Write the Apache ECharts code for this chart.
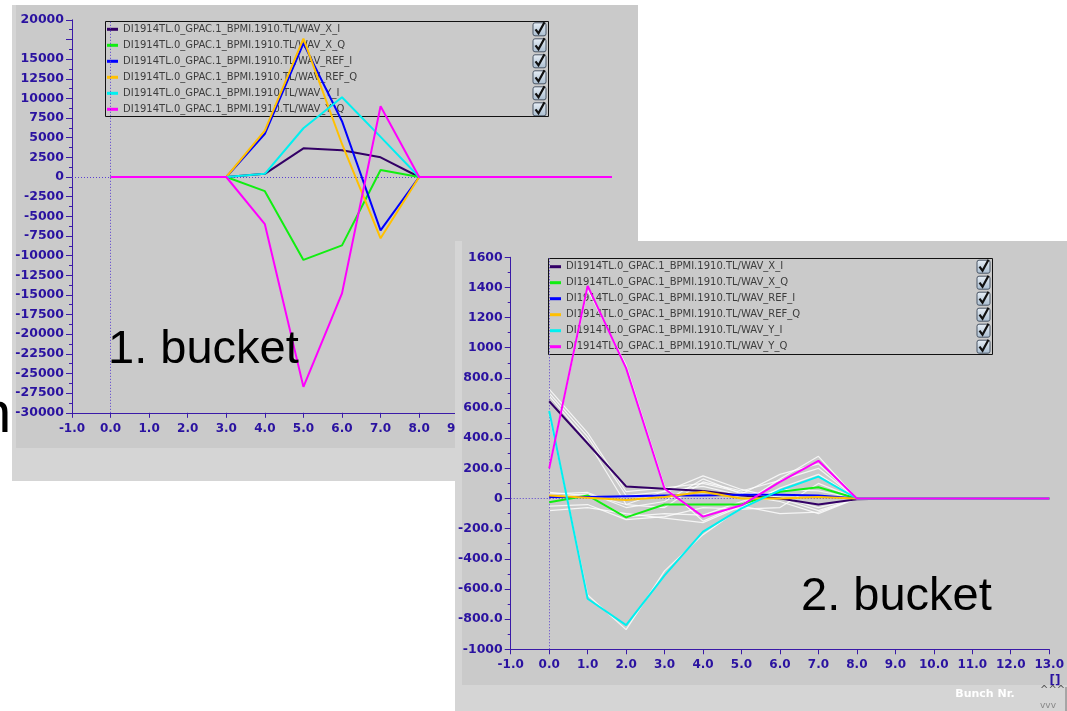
<!DOCTYPE html>
<html>
<head>
<meta charset="utf-8">
<title>BPMI 1910 waveforms</title>
<script src="https://cdn.jsdelivr.net/npm/echarts@6/dist/echarts.min.js"></script>
<style>
  html, body { margin: 0; padding: 0; background: #ffffff; }
  body { position: relative; width: 1067px; height: 711px; overflow: hidden; }
  #bucket1 { position: absolute; left: 12px; top: 5px; width: 626px; height: 476px; }
  #bucket2 { position: absolute; left: 455px; top: 241px; width: 612px; height: 470px; }
  #slideEdge { position: absolute; left: -21px; top: 372px; font: 58px 'Liberation Sans', Arial, sans-serif; color: #000; line-height: 80px; }
</style>
</head>
<body>
<div id="slideEdge">n</div>
<div id="bucket1"></div>
<div id="bucket2"></div>
<script>
// ---- data ---------------------------------------------------------------
const bunchNr = [0, 1, 2, 3, 4, 5, 6, 7, 8, 9, 10, 11, 12, 13];

const signalNames = [
  'DI1914TL.0_GPAC.1_BPMI.1910.TL/WAV_X_I',
  'DI1914TL.0_GPAC.1_BPMI.1910.TL/WAV_X_Q',
  'DI1914TL.0_GPAC.1_BPMI.1910.TL/WAV_REF_I',
  'DI1914TL.0_GPAC.1_BPMI.1910.TL/WAV_REF_Q',
  'DI1914TL.0_GPAC.1_BPMI.1910.TL/WAV_Y_I',
  'DI1914TL.0_GPAC.1_BPMI.1910.TL/WAV_Y_Q'
];

// 1st bucket
const b1XI   = [0, 0, 0, 0,   400,   3650,   3400,  2500, 0, 0, 0, 0, 0, 0];
const b1XQ   = [0, 0, 0, 0, -1800, -10550,  -8700,   900, 0, 0, 0, 0, 0, 0];
const b1RefI = [0, 0, 0, 0,  5500,  17000,   7100, -6800, 0, 0, 0, 0, 0, 0];
const b1RefQ = [0, 0, 0, 0,  5900,  17600,   4200, -7800, 0, 0, 0, 0, 0, 0];
const b1YI   = [0, 0, 0, 0,   400,   6200,  10150,  5100, 0, 0, 0, 0, 0, 0];
const b1YQ   = [0, 0, 0, 0, -6000, -26700, -14800,  9000, 0, 0, 0, 0, 0, 0];

// 2nd bucket
const b2XI   = [645,  365,   80,   65,   50,  20,   0, -40, -5, 0, 0, 0, 0, 0];
const b2XQ   = [-25,   20, -125,  -40,  -40, -40,  45,  75,  0, 0, 0, 0, 0, 0];
const b2RefI = [ 10,   10,   15,   20,   20,  25,  25,  20,  0, 0, 0, 0, 0, 0];
const b2RefQ = [ 20,    5,  -10,   10,   45,   0,   0,  10,  0, 0, 0, 0, 0, 0];
const b2YI   = [580, -665, -840, -510, -220, -65,  55, 145,  0, 0, 0, 0, 0, 0];
const b2YQ   = [200, 1410,  865,   65, -120, -45, 110, 250,  0, 0, 0, 0, 0, 0];

// earlier acquisitions of the 2nd bucket (persistence traces, bunches 0..8)
const b2Prev1  = [725,  435,   45,   70,  100,  40,  10,  -60, 0];
const b2Prev2  = [700,  410,   20,   45,  150,  60,   0,  -80, 0];
const b2Prev3  = [680,  380,  -40,   50,   80,  20, -20, -100, 0];
const b2Prev4  = [210, 1385,  885,   80, -150, -40, 130,  280, 0];
const b2Prev5  = [560, -640, -870, -480, -240, -60,  70,  160, 0];
const b2Prev6  = [ 30,   40,  -60,  -20,  130,  30, 160,  230, 0];
const b2Prev7  = [-50,  -40, -140, -120,  -60, -70, -60,  100, 0];
const b2Prev8  = [-80,  -60, -100, -130, -160, -50,-100,  -90, 0];
const b2Prev9  = [ 40,   20, -120, -100, -110, -20,  60,   50, 0];
const b2Prev10 = [ 10,   30,  -40,  -60,  110,  50, 120,  200, 0];

// ---- styling -------------------------------------------------------------
const signalColors = ['#330066', '#11ee11', '#0000ff', '#ffc000', '#00f0f0', '#ff00ff'];
const axisColor = '#3a1aa8';
const labelColor = '#2a12a0';
const yLabelFont = { fontFamily: 'DejaVu Sans', fontWeight: 'bold', fontSize: 12.5, color: labelColor };
const xLabelFont = { fontFamily: 'DejaVu Sans', fontWeight: 'bold', fontSize: 12, color: labelColor };

function pairs(values) {
  return values.map((v, i) => [bunchNr[i], v]);
}

function checkbox(x, y) {
  return {
    type: 'group', x: x, y: y, z: 6,
    children: [
      { type: 'rect', shape: { x: 0, y: 0, width: 13, height: 13, r: 2 },
        style: { fill: new echarts.graphic.LinearGradient(0, 0, 0, 1, [
          { offset: 0, color: '#e9f0f7' }, { offset: 1, color: '#a8bccf' }]),
          stroke: '#4a5666', lineWidth: 1 } },
      { type: 'polyline', shape: { points: [[2.5, 6.5], [5.5, 10.5], [11.5, -0.5]] },
        style: { stroke: '#111111', lineWidth: 2.2, fill: null } }
    ]
  };
}

function buildOption(cfg) {
  const traces = (cfg.history || []).map(h => ({
    type: 'line', data: pairs(h), symbol: 'none', silent: true, z: 4,
    lineStyle: { color: 'rgba(255,255,255,0.8)', width: 1.2 }
  }));
  const signals = cfg.signals.map((vals, k) => ({
    name: signalNames[k], type: 'line', data: pairs(vals), symbol: 'none', z: 5,
    itemStyle: { color: signalColors[k] },
    lineStyle: { color: signalColors[k], width: 2 }
  }));
  const zeroMarks = {
    type: 'line', data: [], symbol: 'none', z: 3, silent: true,
    markLine: {
      silent: true, symbol: ['none', 'none'], label: { show: false },
      lineStyle: { type: [1, 2], color: '#5a3fd0', width: 1 },
      data: [{ yAxis: 0 }, { xAxis: 0 }]
    }
  };
  const g = cfg.legendBox;
  const graphics = [
    { type: 'rect', z: 0, silent: true,
      shape: { x: cfg.inner[0], y: cfg.inner[1], width: cfg.inner[2], height: cfg.inner[3] },
      style: { fill: '#cacaca' } },
    { type: 'rect', z: 4, silent: true,
      shape: { x: g[0] + 0.5, y: g[1] + 0.5, width: g[2], height: g[3] },
      style: { fill: null, stroke: '#111111', lineWidth: 1 } },
    { type: 'text', z: 7, x: cfg.title[0], y: cfg.title[1],
      style: { text: cfg.title[2], font: '47px "Liberation Sans", Arial, sans-serif',
               fill: '#000000', verticalAlign: 'middle' } }
  ];
  for (let i = 0; i < 6; i++) {
    graphics.push(checkbox(cfg.checkX, cfg.rowTop + i * 16 - 6.5));
  }
  (cfg.extra || []).forEach(e => graphics.push(e));

  return {
    animation: false,
    backgroundColor: '#d5d5d5',
    grid: { left: cfg.grid[0], top: cfg.grid[1], width: cfg.grid[2], height: cfg.grid[3],
            show: true, borderColor: axisColor, borderWidth: 1, backgroundColor: 'transparent' },
    legend: {
      data: signalNames, orient: 'vertical', left: g[0] + 2, top: cfg.rowTop - 6,
      padding: 0, itemGap: 4, itemWidth: 11, itemHeight: 3, icon: 'rect',
      selectedMode: false, z: 4,
      textStyle: { fontFamily: 'DejaVu Sans', fontSize: 10, color: '#3c3c3c', lineHeight: 12, padding: 0 }
    },
    xAxis: {
      type: 'value', min: -1, max: 13, interval: 1,
      axisLine: { show: true, onZero: false, lineStyle: { color: axisColor, width: 1 } },
      axisTick: { show: true, length: 5, lineStyle: { color: axisColor } },
      axisLabel: Object.assign({ margin: 10, formatter: v => v.toFixed(1) }, xLabelFont),
      splitLine: { show: false }
    },
    yAxis: {
      type: 'value', min: cfg.yMin, max: cfg.yMax, interval: cfg.yStep,
      axisLine: { show: true, onZero: false, lineStyle: { color: axisColor, width: 1 } },
      axisTick: { show: true, length: 6, lineStyle: { color: axisColor } },
      minorTick: { show: true, splitNumber: 2, length: 3, lineStyle: { color: axisColor } },
      axisLabel: Object.assign({ margin: 8, formatter: cfg.yFormat }, yLabelFont),
      splitLine: { show: false }
    },
    graphic: graphics,
    series: [zeroMarks].concat(traces, signals)
  };
}

// 1st bucket panel
const chart1 = echarts.init(document.getElementById('bucket1'), null, { renderer: 'canvas' });
chart1.setOption(buildOption({
  grid: [60, 14.8, 540, 393],
  inner: [4, 0, 622, 443],
  yMin: -30000, yMax: 20000, yStep: 2500,
  yFormat: v => (v === 17500 ? '' : String(v)),
  signals: [b1XI, b1XQ, b1RefI, b1RefQ, b1YI, b1YQ],
  legendBox: [93, 16, 443, 95],
  rowTop: 24.3,
  checkX: 521,
  title: [96, 345, '1. bucket']
}));

// 2nd bucket panel
const chart2 = echarts.init(document.getElementById('bucket2'), null, { renderer: 'canvas' });
chart2.setOption(buildOption({
  grid: [55, 16.27, 545, 392],
  inner: [7, 0, 605, 444],
  yMin: -1000, yMax: 1600, yStep: 200,
  yFormat: v => (v === 0 ? '0' : (Math.abs(v) >= 1000 ? String(v) : v.toFixed(1))),
  signals: [b2XI, b2XQ, b2RefI, b2RefQ, b2YI, b2YQ],
  history: [b2Prev1, b2Prev2, b2Prev3, b2Prev4, b2Prev5, b2Prev6, b2Prev7, b2Prev8, b2Prev9, b2Prev10],
  legendBox: [93, 17, 444, 96],
  rowTop: 25.7,
  checkX: 522,
  title: [346, 356, '2. bucket'],
  extra: [
    { type: 'text', z: 7, x: 600, y: 440,
      style: { text: '[]', font: 'bold 12px "DejaVu Sans"', fill: labelColor, align: 'center', verticalAlign: 'middle' } },
    { type: 'text', z: 7, x: 530, y: 453,
      style: { text: 'Bunch Nr.', font: 'bold 11px "DejaVu Sans"', fill: '#ffffff', align: 'center', verticalAlign: 'middle' } },
    { type: 'text', z: 7, x: 585, y: 449,
      style: { text: '^^^', font: '10px "DejaVu Sans"', fill: '#555555', verticalAlign: 'middle' } },
    { type: 'text', z: 7, x: 585, y: 465,
      style: { text: 'vvv', font: '9px "DejaVu Sans"', fill: '#888888', verticalAlign: 'middle' } },
    { type: 'line', z: 7, shape: { x1: 611, y1: 446, x2: 611, y2: 470 },
      style: { stroke: '#777777', lineWidth: 1 } }
  ]
}));
</script>
</body>
</html>
